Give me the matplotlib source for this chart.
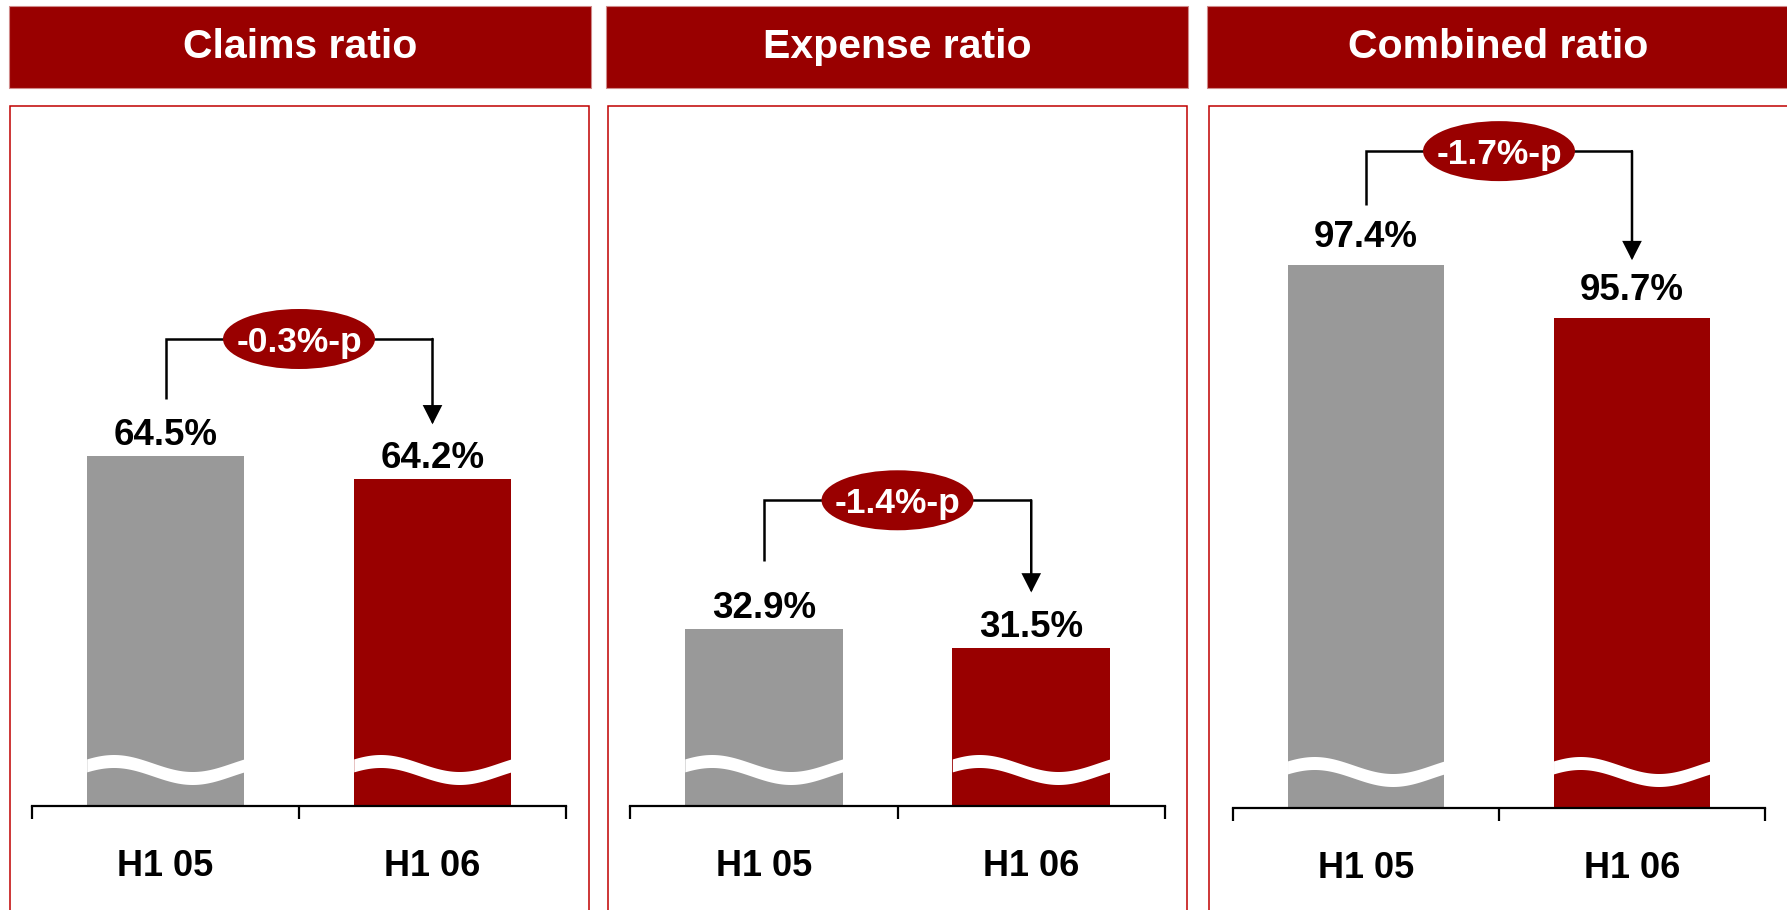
import numpy as np
import matplotlib
matplotlib.use('Agg')
import matplotlib.pyplot as plt
from matplotlib.patches import Rectangle, Ellipse

# ---------------- data ----------------
panel_titles = ['Claims ratio', 'Expense ratio', 'Combined ratio']
periods = ['H1 05', 'H1 06']
claims_ratio = [64.5, 64.2]
expense_ratio = [32.9, 31.5]
combined_ratio = [97.4, 95.7]
changes = ['-0.3%-p', '-1.4%-p', '-1.7%-p']
axis_base = [60, 20, 80]          # broken-axis start value of each panel
axis_top = [69.0, 71.1, 102.5]

series = [claims_ratio, expense_ratio, combined_ratio]

# ---------------- layout (pixels) ----------------
W, H = 1787, 910
fig = plt.figure(figsize=(W / 100, H / 100), dpi=100)
plt.rcParams['font.family'] = ['Liberation Sans', 'DejaVu Sans']

DARK_RED = '#990000'
GRAY = '#999999'
BOX_RED = '#c00000'

headers = [(9, 591), (606, 1188), (1207, 1790)]
boxes = [(9.5, 589), (608, 1187), (1209, 1800)]
axes_x = [(32, 566), (630, 1165), (1233, 1765)]
axes_base_y = [806, 806, 808]
AX_TOP = 106
label_gap = [11, 11, 18]
bracket_low = [57, 68, 60]
bracket_high = [117, 129, 114]
arrow_gap = [55, 56, 58]
ELL_W, ELL_H = 152, 60


def fx(px):
    return px / W


def fy(py):
    return 1 - py / H


for k in range(3):
    # header
    x0, x1 = headers[k]
    fig.add_artist(Rectangle((fx(x0), fy(88)), fx(x1 - x0), (88 - 6) / H,
                             transform=fig.transFigure, facecolor=DARK_RED,
                             edgecolor='#d08a8a', lw=0.8))
    fig.text(fx((x0 + x1) / 2), fy(47), panel_titles[k], color='white',
             fontsize=29.5, fontweight='bold', ha='center', va='center')
    # panel box
    b0, b1 = boxes[k]
    fig.add_artist(Rectangle((fx(b0), -20 / H), fx(b1 - b0), (H + 20 - AX_TOP) / H,
                             transform=fig.transFigure, facecolor='none',
                             edgecolor=BOX_RED, lw=1.1))

    a0, a1 = axes_x[k]
    by = axes_base_y[k]
    ax = fig.add_axes([fx(a0), 1 - by / H, fx(a1 - a0), (by - AX_TOP) / H])
    ax.patch.set_visible(False)
    base, top = axis_base[k], axis_top[k]
    ax.set_xlim(-0.5, 1.5)
    ax.set_ylim(base, top)
    for s in ['left', 'right', 'top']:
        ax.spines[s].set_visible(False)
    ax.spines['bottom'].set_linewidth(1.6)
    ax.set_yticks([])

    ppu = (by - AX_TOP) / (top - base)          # pixels per data unit (y)
    ppx = (a1 - a0) / 2.0                       # pixels per data unit (x)

    vals = np.array(series[k])
    xs = np.arange(len(vals))
    bw = 0.59
    ax.bar(xs, vals - base, bottom=base, width=bw, color=[GRAY, DARK_RED],
           zorder=2)

    # axis break wave across each bar
    t = np.linspace(0, 1, 200)
    centre = 36.5 + 8.5 * np.sin(2 * np.pi * (t + 0.08))
    for xi in xs:
        xw = xi - bw / 2 + bw * t
        ax.fill_between(xw, base + (centre - 6.5) / ppu, base + (centre + 6.5) / ppu,
                        color='white', lw=0, zorder=3)

    # ticks
    ax.set_xticks([-0.5, 0.5, 1.5])
    ax.set_xticklabels([])
    ax.tick_params(axis='x', which='major', length=9.4, width=1.6,
                   direction='out', color='black')
    ax.set_xticks(xs, minor=True)
    ax.set_xticklabels(periods, minor=True, fontsize=26, fontweight='bold')
    ax.tick_params(axis='x', which='minor', length=0, pad=31)

    # value labels
    for xi, v in zip(xs, vals):
        ax.text(xi, v + label_gap[k] / ppu, f'{v:.1f}%', ha='center',
                va='baseline', fontsize=26.5, fontweight='bold', color='black')

    # bracket with change
    y_low = vals[0] + bracket_low[k] / ppu
    y_high = vals[0] + bracket_high[k] / ppu
    y_tip = vals[1] + arrow_gap[k] / ppu
    ax.plot([0, 0, 1], [y_low, y_high, y_high], color='black', lw=1.8,
            solid_joinstyle='miter', solid_capstyle='butt', zorder=4,
            clip_on=False)
    ax.annotate('', xy=(1, y_tip), xytext=(1, y_high),
                arrowprops=dict(arrowstyle='-|>,head_length=0.55,head_width=0.28',
                                mutation_scale=20, lw=1.8, color='black',
                                shrinkA=0, shrinkB=0, joinstyle='miter'),
                zorder=4, annotation_clip=False)
    ax.add_patch(Ellipse((0.5, y_high), ELL_W / ppx, ELL_H / ppu,
                         facecolor=DARK_RED, edgecolor='none', zorder=5,
                         clip_on=False))
    ax.text(0.5, y_high, changes[k], ha='center', va='center_baseline',
            fontsize=25.5, fontweight='bold', color='white', zorder=6)

fig.savefig('out.png', dpi=100)
